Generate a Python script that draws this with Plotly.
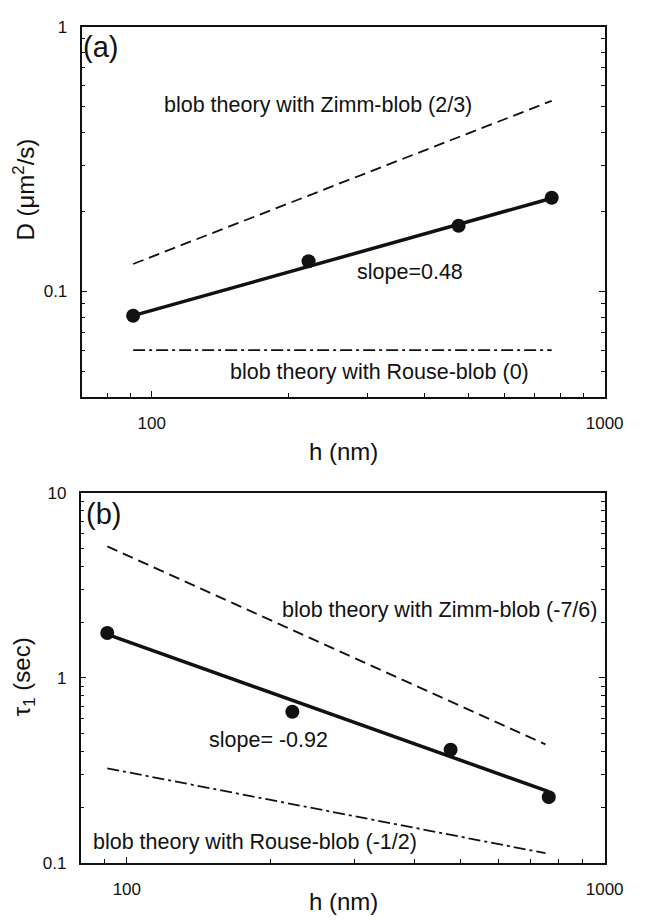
import numpy as np
import plotly.graph_objects as go

# Measured data: channel height h (nm), diffusion coefficient D, relaxation time tau1
h = [91, 222, 476, 764]
D = [0.081, 0.130, 0.177, 0.226]
tau = [1.75, 0.656, 0.409, 0.227]

# Power-law lines: exponent and value at the first height
h_line_a = [91, 764]
h_line_b = [91, 752]
slope_D_fit, D_fit0 = 0.48, 0.081
slope_D_zimm, D_zimm0 = 2 / 3, 0.127
slope_D_rouse, D_rouse0 = 0.0, 0.060
slope_t_fit, t_fit0 = -0.92, 1.72
slope_t_zimm, t_zimm0 = -7 / 6, 5.14
slope_t_rouse, t_rouse0 = -0.5, 0.325

FONT = "Liberation Sans, Arial, sans-serif"
INK = "#111111"
DASH = "11px,6px"
DASHDOT = "12px,4px,3px,4px"


def power_line(hs, y0, slope):
    hs = np.asarray(hs, dtype=float)
    return (y0 * (hs / hs[0]) ** slope).tolist()


fig = go.Figure()

# ---- panel (a): D vs h ----
fig.add_trace(go.Scatter(x=h_line_a, y=power_line(h_line_a, D_zimm0, slope_D_zimm),
                         mode="lines", line=dict(color=INK, width=1.8, dash=DASH),
                         xaxis="x", yaxis="y"))
fig.add_trace(go.Scatter(x=h_line_a, y=power_line(h_line_a, D_rouse0, slope_D_rouse),
                         mode="lines", line=dict(color=INK, width=1.8, dash=DASHDOT),
                         xaxis="x", yaxis="y"))
fig.add_trace(go.Scatter(x=h_line_a, y=power_line(h_line_a, D_fit0, slope_D_fit),
                         mode="lines", line=dict(color=INK, width=3.5),
                         xaxis="x", yaxis="y"))
fig.add_trace(go.Scatter(x=h, y=D, mode="markers",
                         marker=dict(color=INK, size=14),
                         xaxis="x", yaxis="y"))

# ---- panel (b): tau1 vs h ----
fig.add_trace(go.Scatter(x=h_line_b, y=power_line(h_line_b, t_zimm0, slope_t_zimm),
                         mode="lines", line=dict(color=INK, width=1.8, dash=DASH),
                         xaxis="x2", yaxis="y2"))
fig.add_trace(go.Scatter(x=h_line_b, y=power_line(h_line_b, t_rouse0, slope_t_rouse),
                         mode="lines", line=dict(color=INK, width=1.8, dash=DASHDOT),
                         xaxis="x2", yaxis="y2"))
fig.add_trace(go.Scatter(x=h_line_a, y=power_line(h_line_a, t_fit0, slope_t_fit),
                         mode="lines", line=dict(color=INK, width=3.5),
                         xaxis="x2", yaxis="y2"))
fig.add_trace(go.Scatter(x=h, y=tau, mode="markers",
                         marker=dict(color=INK, size=14),
                         xaxis="x2", yaxis="y2"))


def minor_vals(lo_exp, hi_exp):
    return [m * 10 ** e for e in range(lo_exp, hi_exp) for m in range(2, 10)]


tick_font = dict(family=FONT, size=17, color=INK)
common = dict(type="log", showgrid=False, zeroline=False, showline=True,
              linecolor=INK, linewidth=1.6, ticks="inside", ticklen=6,
              tickwidth=1.4, tickcolor=INK, tickfont=tick_font, tickmode="array")


def minor(vals):
    return dict(ticks="inside", ticklen=4, tickwidth=1.4, tickcolor=INK,
                tickmode="array", tickvals=vals)


fig.update_layout(
    width=645, height=922,
    margin=dict(l=0, r=0, t=0, b=0),
    paper_bgcolor="white", plot_bgcolor="white",
    showlegend=False, hovermode=False,
    font=dict(family=FONT, color=INK),
    xaxis=dict(common, domain=[84 / 645, 623 / 645], anchor="y",
               range=[np.log10(70), 3], mirror=True,
               tickvals=[100, 1000], ticktext=["100", "1000"],
               ticklabelstandoff=10, minor=minor(minor_vals(1, 3))),
    yaxis=dict(common, domain=[1 - 396 / 922, 1 - 18 / 922], anchor="x",
               range=[np.log10(0.04), 0], mirror="ticks",
               tickvals=[0.1, 1], ticktext=["0.1", "1"],
               ticklabelstandoff=9, minor=minor(minor_vals(-2, 0))),
    xaxis2=dict(common, domain=[83 / 645, 623 / 645], anchor="y2",
                range=[np.log10(80), 3], mirror=True,
                tickvals=[100, 1000], ticktext=["100", "1000"],
                ticklabelstandoff=10, minor=minor(minor_vals(1, 3))),
    yaxis2=dict(common, domain=[1 - 872 / 922, 1 - 494 / 922], anchor="x2",
                range=[-1, 1], mirror="ticks",
                tickvals=[0.1, 1, 10], ticktext=["0.1", "1", "10"],
                ticklabelstandoff=9, minor=minor(minor_vals(-1, 1))),
)

label_font = dict(family=FONT, size=21.5, color=INK)
panel_font = dict(family=FONT, size=29, color=INK)
title_font = dict(family=FONT, size=24, color=INK)


def note(text, x, y, xref, yref, font=label_font, xanchor="left", angle=0):
    fig.add_annotation(text=text, x=x, y=y, xref=xref, yref=yref,
                       xanchor=xanchor, yanchor="middle", showarrow=False,
                       font=font, textangle=angle, borderpad=0)


# panel (a) labels (log10 coordinates on log axes)
note("(a)", 1.847, -0.077, "x", "y", font=panel_font)
note("blob theory with Zimm-blob (2/3)", 2.025, -0.295, "x", "y")
note("slope=0.48", 2.451, -0.925, "x", "y")
note("blob theory with Rouse-blob (0)", 2.170, -1.303, "x", "y")

# panel (b) labels
note("(b)", 1.912, 0.887, "x2", "y2", font=panel_font)
note("blob theory with Zimm-blob (-7/6)", 2.323, 0.369, "x2", "y2")
note("slope= -0.92", 2.170, -0.335, "x2", "y2")
note("blob theory with Rouse-blob (-1/2)", 1.927, -0.885, "x2", "y2")

# axis titles
note("h (nm)", 354 / 645, 1 - 452 / 922, "paper", "paper", font=title_font, xanchor="center")
note("h (nm)", 354 / 645, 1 - 911 / 922, "paper", "paper", font=title_font, xanchor="center")
note("D (μm<sup>2</sup>/s)", 25 / 645, 1 - 184 / 922, "paper", "paper",
     font=title_font, xanchor="center", angle=-90)
note("τ<sub>1</sub> (sec)", 25 / 645, 1 - 682 / 922, "paper", "paper",
     font=title_font, xanchor="center", angle=-90)

fig.write_html("out.html")
